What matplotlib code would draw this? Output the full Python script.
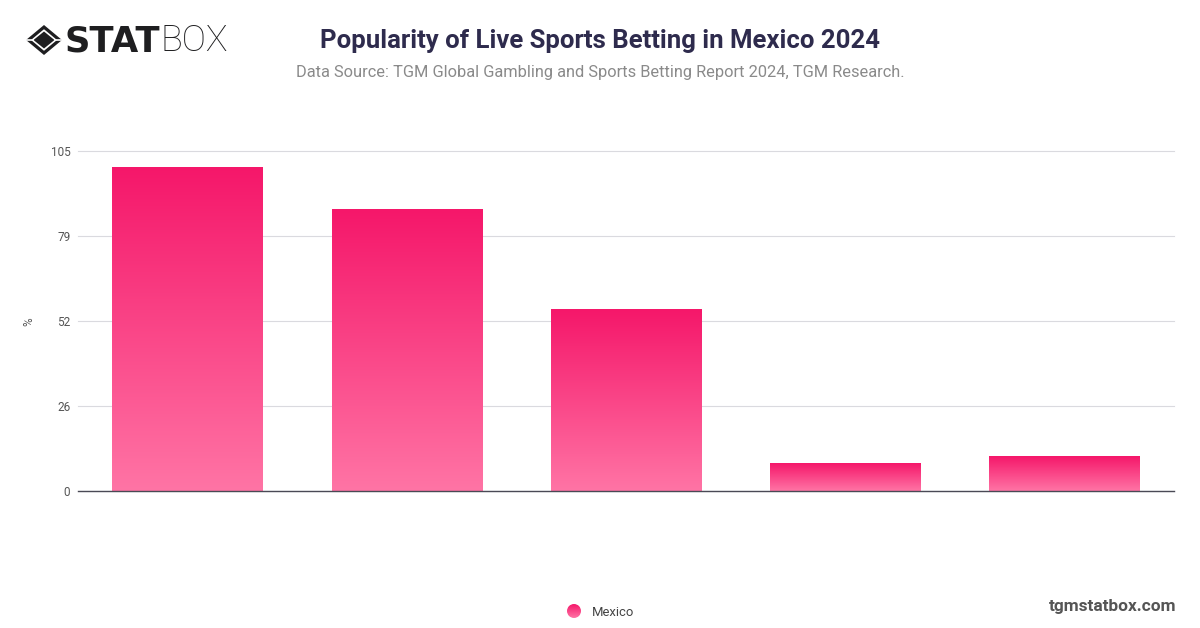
import matplotlib
matplotlib.use("Agg")
import matplotlib.pyplot as plt
import numpy as np
from matplotlib.patches import Polygon, Circle
from matplotlib.lines import Line2D

categories = ["A", "B", "C", "D", "E"]
values = [100.2, 87.2, 56.0, 8.6, 10.8]
tick_values = [0, 26.25, 52.5, 78.75, 105]
tick_labels = ["0", "26", "52", "79", "105"]
series_name = "Mexico"

TOP = "#F5176A"
BOTTOM = "#FF74A5"
W, H = 1200, 628

plt.rcParams["font.family"] = ["Roboto", "DejaVu Sans"]
fig = plt.figure(figsize=(W / 100, H / 100), dpi=100, facecolor="white")
AL, AR = 78.0, 1174.0
ax = fig.add_axes([AL / W, 1 - 491 / H, (AR - AL) / W, (491 - 151.5) / H])
x = np.arange(len(categories))
bars = ax.bar(x, values, width=0.687, color="none", zorder=3)

def hex_rgb(c):
    return np.array(matplotlib.colors.to_rgb(c))

t = np.linspace(0, 1, 256)[:, None, None]
grad = (1 - t) * hex_rgb(TOP)[None, None, :] + t * hex_rgb(BOTTOM)[None, None, :]
for b in bars:
    ax.imshow(grad, extent=(b.get_x(), b.get_x() + b.get_width(), 0, b.get_height()),
              origin="upper", aspect="auto", zorder=2, interpolation="bilinear")
ax.set_xlim(-0.5, 4.5)
ax.set_ylim(0, 105)

ax.set_yticks(tick_values)
ax.set_yticklabels(tick_labels, fontsize=8.5, color="#555555")
ax.set_xticks([])
ax.tick_params(axis="y", length=0, pad=5.5)
ax.grid(axis="y", color="#DADADF", linewidth=0.8, zorder=1)
for gl in ax.get_ygridlines():
    gl.set_clip_on(False)
ax.set_axisbelow(True)
for s in ["top", "right", "left"]:
    ax.spines[s].set_visible(False)
ax.spines["bottom"].set_color("#4A4A55")
ax.spines["bottom"].set_linewidth(1.0)
ax.spines["bottom"].set_zorder(5)
ax.set_ylabel("%", fontsize=8.5, color="#555555", labelpad=0)
ax.yaxis.set_label_coords((35 - AL) / (AR - AL), 0.5)

def fx(px): return px / W
def fy(py): return 1 - py / H

fig.text(fx(600), fy(41), "Popularity of Live Sports Betting in Mexico 2024",
         ha="center", va="center", fontsize=18.5, fontweight="bold", color="#2E2B4D")
fig.text(fx(600), fy(73), "Data Source: TGM Global Gambling and Sports Betting Report 2024, TGM Research.",
         ha="center", va="center", fontsize=11.83, color="#8A8A8A")
fig.text(fx(1176), fy(607), "tgmstatbox.com", ha="right", va="center",
         fontsize=12.4, fontweight="bold", color="#555555")
fig.text(fx(591.5), fy(612), series_name, ha="left", va="center", fontsize=9.4, color="#444444")

# legend dot with gradient
dot_ax = fig.add_axes([fx(567), fy(618), 14 / W, 14 / H])
dot_ax.axis("off")
im = dot_ax.imshow(grad, extent=(0, 1, 0, 1), aspect="auto", origin="upper")
im.set_clip_path(Circle((0.5, 0.5), 0.5, transform=dot_ax.transData))

# logo: mark and word
logo = "#1E1E20"
tr = fig.transFigure
def pts(cx, cy, rx, ry):
    return [(fx(cx - rx), fy(cy)), (fx(cx), fy(cy - ry)), (fx(cx + rx), fy(cy)), (fx(cx), fy(cy + ry))]
fig.add_artist(Polygon(pts(44, 40, 18, 15), closed=True, transform=tr, fc=logo, ec="none"))
fig.add_artist(Polygon(pts(44, 40, 13, 10.8), closed=True, transform=tr, fc="white", ec="none"))
fig.add_artist(Polygon(pts(44, 40, 10.5, 8.5), closed=True, transform=tr, fc=logo, ec="none"))
for xa, xb in [(25, 33), (55, 63)]:
    fig.add_artist(Line2D([fx(xa), fx(xb)], [fy(40), fy(40)], transform=tr, color="white", lw=1.2))
fig.text(fx(64.5), fy(41), "STAT", ha="left", va="center", fontsize=25.5, fontweight="bold",
         color=logo, family=["DejaVu Sans"])
fig.text(fx(160), fy(41), "BOX", ha="left", va="center", fontsize=26, fontweight="light",
         color=logo, family=["Roboto", "DejaVu Sans"])

fig.savefig("out.png", dpi=100)
